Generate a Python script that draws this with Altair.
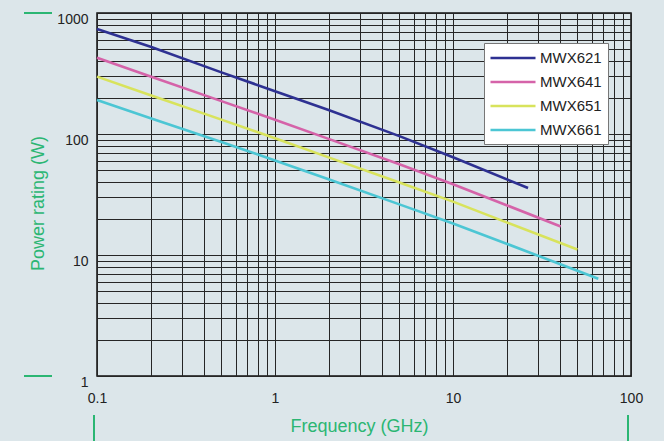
import altair as alt
import pandas as pd

# ---- data ----
MODELS = ["MWX621", "MWX641", "MWX651", "MWX661"]
COLORS = ["#2e3192", "#d563a9", "#d8e35c", "#4cc6d4"]

F_621 = [0.1, 0.2, 0.5, 1, 2, 5, 10, 26.4]
P_621 = [738, 527, 323, 226, 158, 96, 64.2, 35.8]

F_641 = [0.1, 0.2, 0.5, 1, 2, 5, 10, 20, 40.3]
P_641 = [427, 299, 187, 131, 91.1, 56.2, 38.5, 25.8, 17.2]

F_651 = [0.1, 0.2, 0.5, 1, 2, 5, 10, 20, 50]
P_651 = [298, 209, 131.5, 92.3, 64.1, 39.7, 27.6, 18.6, 11.1]

F_661 = [0.1, 0.2, 0.5, 1, 2, 5, 10, 20, 50, 65.5]
P_661 = [191, 135, 85.9, 60.4, 42.2, 26.2, 18.2, 12.4, 7.4, 6.37]

X_GRID = [0.1, 0.2, 0.3, 0.4, 0.5, 0.6, 0.7, 0.8, 0.9,
          1, 2, 3, 4, 5, 6, 7, 8, 9,
          10, 20, 30, 40, 50, 60, 70, 80, 90, 100]
Y_GRID = [1, 2, 3, 4, 5, 6, 7, 8, 9,
          10, 20, 30, 40, 50, 60, 70, 80, 90,
          100, 200, 300, 400, 500, 600, 700, 800, 900, 1000]
X_LABELS = [0.1, 1, 10, 100]
Y_LABELS = [1, 10, 100, 1000]

X_TITLE = "Frequency (GHz)"
Y_TITLE = "Power rating (W)"

GREEN = "#2bb673"
BG = "#dce6ea"
FONT = "Liberation Sans"

rows = []
for name, fs, ps in [("MWX621", F_621, P_621), ("MWX641", F_641, P_641),
                     ("MWX651", F_651, P_651), ("MWX661", F_661, P_661)]:
    for f, p in zip(fs, ps):
        rows.append({"model": name, "freq": f, "power": p})
df = pd.DataFrame(rows)

W, H = 534, 363

xscale = alt.Scale(type="log", domain=[0.1, 100], nice=False)
yscale = alt.Scale(type="log", domain=[1, 1000], nice=False)


def lab_expr(vals):
    return "indexof([" + ",".join(str(v) for v in vals) + "], datum.value) >= 0 ? datum.label : ''"


lines = alt.Chart(df).mark_line(strokeWidth=2.6, strokeCap="butt").encode(
    x=alt.X("freq:Q", scale=xscale,
            axis=alt.Axis(values=X_GRID, format="~g", labelExpr=lab_expr(X_LABELS),
                          title=X_TITLE, ticks=False, domain=False,
                          grid=True, gridColor="#262626", gridWidth=1, gridOpacity=1,
                          labelFont=FONT, labelFontSize=14, labelColor="#222",
                          labelPadding=15, labelFlush=False, labelOverlap=False, labelBound=False,
                          titleFont=FONT, titleFontSize=18, titleFontWeight="normal",
                          titleColor=GREEN, titlePadding=12, titleX=262)),
    y=alt.Y("power:Q", scale=yscale,
            axis=alt.Axis(values=Y_GRID, format="~g", labelExpr=lab_expr(Y_LABELS),
                          title=Y_TITLE, ticks=False, domain=False,
                          grid=True, gridColor="#262626", gridWidth=1, gridOpacity=1,
                          labelFont=FONT, labelFontSize=14, labelColor="#222",
                          labelPadding=9, labelOffset=6, labelFlush=False,
                          labelOverlap=False, labelBound=False,
                          titleFont=FONT, titleFontSize=18, titleFontWeight="normal",
                          titleColor=GREEN, titlePadding=9, titleY=190)),
    color=alt.Color("model:N", scale=alt.Scale(domain=MODELS, range=COLORS),
                    legend=alt.Legend(orient="none", legendX=387, legendY=30, title=None,
                                      symbolType="M-3,0H3", symbolSize=225,
                                      symbolStrokeWidth=2.6, symbolOffset=14,
                                      labelOffset=18, padding=6, rowPadding=7,
                                      fillColor="white", strokeColor="#777",
                                      labelFont=FONT, labelFontSize=15, labelColor="#222")),
)

# green decorative marks (outside plot area)
hmarks = pd.DataFrame({"power": [1000, 1]})
vmarks = pd.DataFrame({"freq": [0.1, 100]})

hdeco = alt.Chart(hmarks).mark_rule(color=GREEN, strokeWidth=2).encode(
    y=alt.Y("power:Q", scale=yscale),
    x=alt.value(-73), x2=alt.value(-45))
vdeco = alt.Chart(vmarks).mark_rule(color=GREEN, strokeWidth=2, xOffset=-3).encode(
    x=alt.X("freq:Q", scale=xscale),
    y=alt.value(H + 39), y2=alt.value(H + 66))

chart = alt.layer(lines, hdeco, vdeco).properties(
    width=W, height=H,
    background=BG,
    padding={"left": 97, "top": 13, "right": 33, "bottom": 65},
    autosize=alt.AutoSizeParams(type="none"),
).configure_view(stroke="#111", strokeWidth=1.5)

chart.save("out.html", embed_options={"renderer": "svg", "actions": False})
